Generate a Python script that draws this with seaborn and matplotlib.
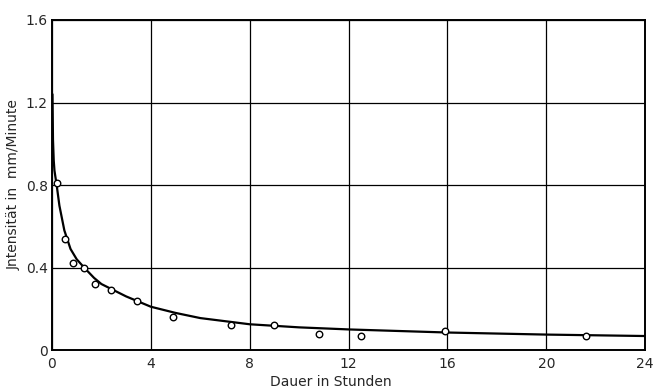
import matplotlib
matplotlib.use("Agg")
import matplotlib.pyplot as plt
import seaborn as sns

# measured points (open circles)
dauer = [0.2, 0.53, 0.85, 1.3, 1.74, 2.4, 3.44, 4.9, 7.25, 9.0, 10.8, 12.5, 15.9, 21.6]
intens = [0.81, 0.54, 0.42, 0.40, 0.32, 0.29, 0.24, 0.16, 0.12, 0.12, 0.08, 0.07, 0.09, 0.07]

# fitted curve
kurve_x = [0.02, 0.04, 0.07, 0.1, 0.15, 0.2, 0.3, 0.5, 0.75, 1.0, 1.3, 1.7, 2.0, 2.5, 3.0,
           4.0, 5.0, 6.0, 7.0, 8.0, 10.0, 12.0, 16.0, 20.0, 24.0]
kurve_y = [1.24, 1.02, 0.92, 0.87, 0.83, 0.79, 0.70, 0.58, 0.49, 0.44, 0.40, 0.35, 0.32, 0.29, 0.26,
           0.21, 0.18, 0.155, 0.14, 0.125, 0.11, 0.10, 0.085, 0.075, 0.068]

xticks = [0, 4, 8, 12, 16, 20, 24]
yticks = [0, 0.4, 0.8, 1.2, 1.6]
ylabels = ["0", "0.4", "0.8", "1.2", "1.6"]

sns.set_style("white")
plt.rcParams['font.family'] = ['DejaVu Sans']

fig = plt.figure(figsize=(6.54, 3.92), dpi=100)
ax = fig.add_axes([0.0795, 0.107, 0.907, 0.842])

sns.lineplot(x=kurve_x, y=kurve_y, ax=ax, color="black", linewidth=1.6, sort=False)
sns.scatterplot(x=dauer, y=intens, ax=ax, marker="o", s=22, facecolor="white",
                edgecolor="black", linewidth=1.0, zorder=5)

ax.set_xlim(0, 24)
ax.set_ylim(0, 1.6)
ax.set_xticks(xticks)
ax.set_yticks(yticks)
ax.set_yticklabels(ylabels)
ax.grid(True, color="black", linewidth=0.9)
ax.set_axisbelow(True)
for s in ax.spines.values():
    s.set_color("black")
    s.set_linewidth(1.4)
ax.tick_params(axis="both", length=0, labelsize=10, pad=5)
ax.tick_params(axis="y", pad=3)

ax.set_xlabel("Dauer in Stunden", fontsize=10)
ax.xaxis.set_label_coords(0.47, -0.075)
ax.set_ylabel("Jntensität in  mm/Minute", fontsize=10)
ax.yaxis.set_label_coords(-0.053, 0.5)

fig.savefig("out.png", dpi=100)
